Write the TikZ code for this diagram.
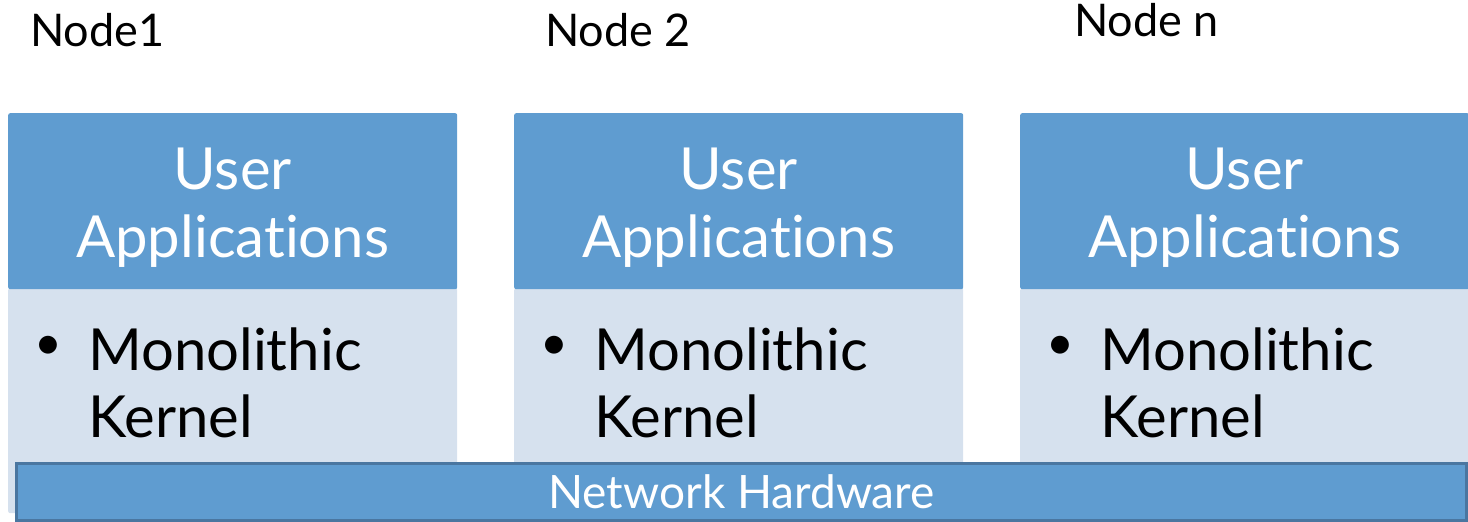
\documentclass[tikz,border=0pt]{standalone}
\usepackage{fontspec}
\setmainfont{Lato}[Ligatures={NoCommon,NoContextual}]
\definecolor{hdrblue}{HTML}{5F9CD0}
\definecolor{bodylight}{HTML}{D6E1EE}
\definecolor{edgeblue}{HTML}{4A76A0}
\tikzset{
  header/.style={anchor=north west, fill=hdrblue, rounded corners=2bp, inner sep=0pt,
    minimum width=449bp, minimum height=176bp},
  panel/.style={anchor=north west, fill=bodylight, rounded corners=2bp, inner sep=0pt,
    minimum width=449bp, minimum height=225bp},
  headtext/.style={text=white, align=center, inner sep=0pt,
    font=\fontsize{58bp}{68bp}\selectfont},
  bodytext/.style={text=black, align=left, inner sep=0pt, anchor=base west,
    font=\fontsize{58bp}{67bp}\selectfont},
  bulletmark/.style={text=black, inner sep=0pt, anchor=center,
    font=\fontsize{48bp}{48bp}\selectfont},
  nodelabel/.style={text=black, inner sep=0pt, anchor=base west,
    font=\fontsize{45bp}{52bp}\selectfont},
  netbar/.style={anchor=north west, fill=hdrblue, draw=edgeblue, line width=3.5bp,
    inner sep=0pt, minimum width=1450bp, minimum height=57bp},
}
\begin{document}
\begin{tikzpicture}[x=1bp,y=-1bp]
\useasboundingbox (0,0) rectangle (1468,522);

% node captions
\node[nodelabel] (lab1) at (30,47) {Node1};
\node[nodelabel] (lab2) at (545,47) {Node 2};
\node[nodelabel] (lab3) at (1074,37) {Node n};

% three node stacks: light kernel panel under a blue application header
\foreach \i/\x in {1/8, 2/514, 3/1020} {
  \node[panel] (body\i) at (\x,288) {};
  \node[header] (head\i) at (\x,113) {};
  \node[headtext, anchor=base] (app\i) at (head\i.north |- 0,258) {User\\Applications};
  \node[bulletmark] (bul\i) at (\x+40.5,348) {•};
  \node[bodytext] (ker\i) at (\x+80,437) {Monolithic\\Kernel};
}

% shared network bar across the bottom
\node[netbar, text=white, font=\fontsize{46bp}{52bp}\selectfont] (net) at (14.75,461.75) {Network Hardware};
\end{tikzpicture}
\end{document}
